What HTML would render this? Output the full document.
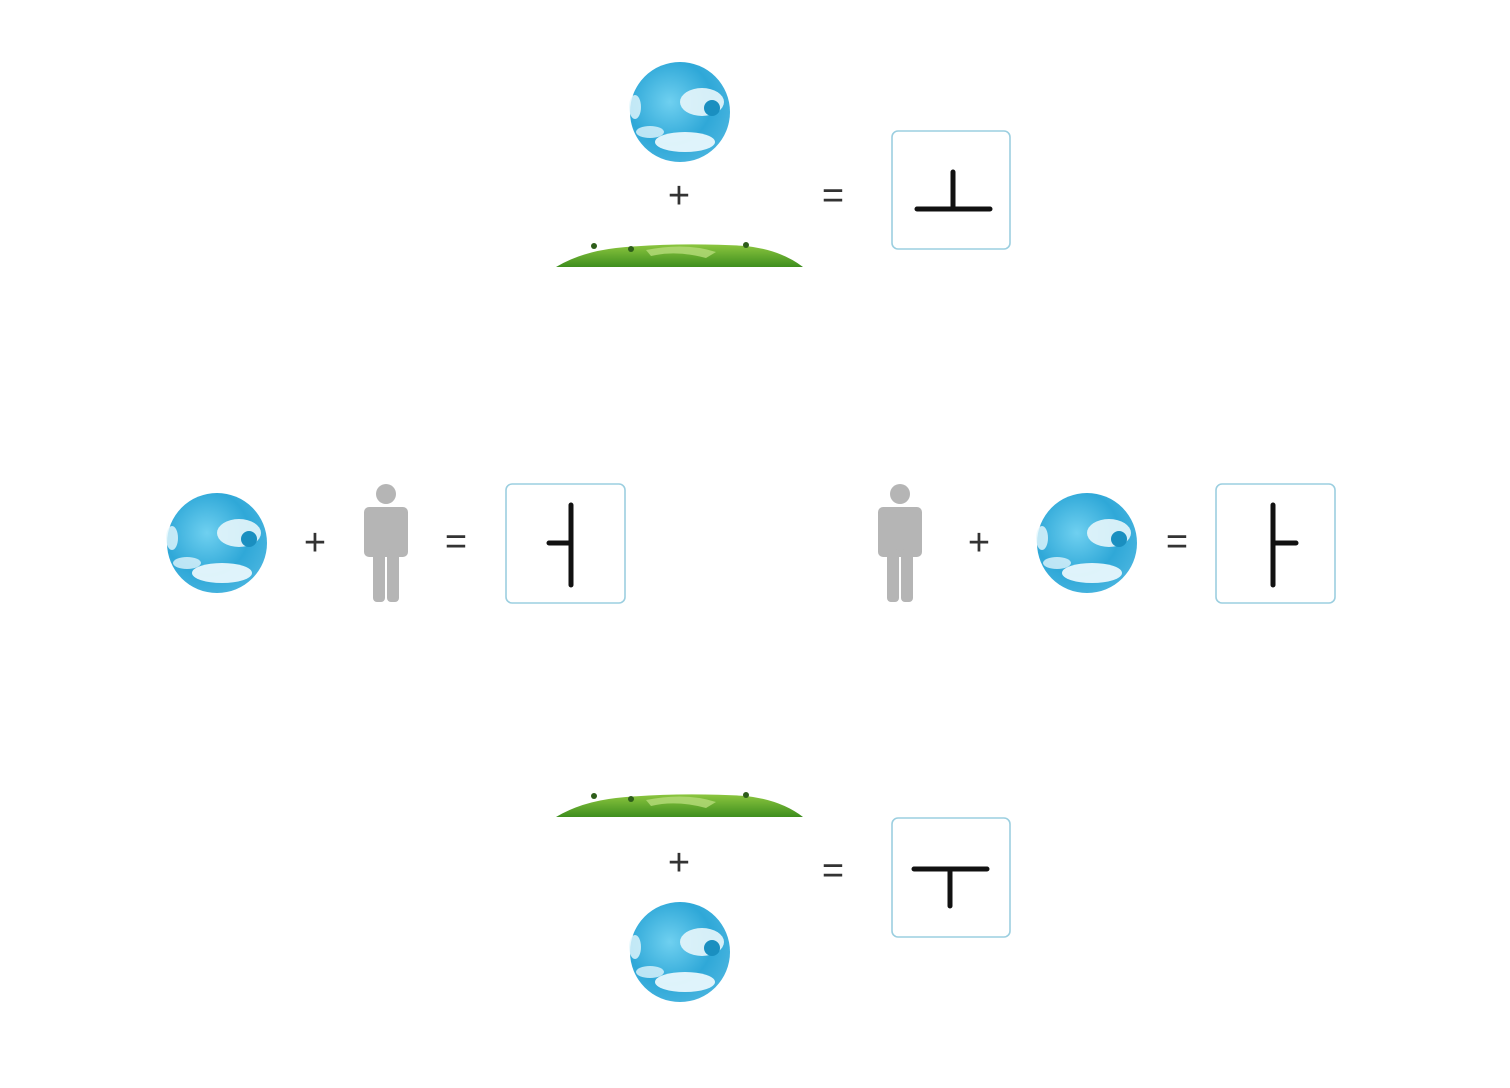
<!DOCTYPE html>
<html><head><meta charset="utf-8"><style>
html,body{margin:0;padding:0;background:#fff;width:1510px;height:1088px;overflow:hidden}
svg{display:block}
.op{font-family:"Liberation Sans",sans-serif;font-size:38px;fill:#333;text-anchor:middle;dominant-baseline:central}
.box{fill:#fff;stroke:#9ccfe0;stroke-width:1.6}
.st{stroke:#111;stroke-width:5;stroke-linecap:round;fill:none}
</style></head><body>
<svg width="1510" height="1088" viewBox="0 0 1510 1088">
<defs>
<radialGradient id="gg" cx="0.4" cy="0.4" r="0.7">
<stop offset="0" stop-color="#6fd0f0"/><stop offset="0.6" stop-color="#2fa8d8"/><stop offset="1" stop-color="#4cb6e0"/>
</radialGradient>
<linearGradient id="gr" x1="0" y1="0" x2="0" y2="1">
<stop offset="0" stop-color="#8cc63f"/><stop offset="1" stop-color="#3e8e1e"/>
</linearGradient>
<g id="globe">
<circle r="50" fill="url(#gg)"/>
<ellipse cx="22" cy="-10" rx="22" ry="14" fill="#e8f6fb" opacity="0.9"/>
<circle cx="32" cy="-4" r="8" fill="#1a8fc0"/>
<ellipse cx="5" cy="30" rx="30" ry="10" fill="#f2fbfe" opacity="0.9"/>
<ellipse cx="-30" cy="20" rx="14" ry="6" fill="#e0f4fb" opacity="0.8"/>
<ellipse cx="-45" cy="-5" rx="6" ry="12" fill="#e6f7fc" opacity="0.8"/>
</g>
<g id="grass">
<path d="M0 27 Q25 12 60 8 Q120 2 190 6 Q225 10 247 27 Z" fill="url(#gr)"/>
<path d="M90 10 Q130 2 160 12 L150 18 Q120 10 95 16Z" fill="#b6dc7a" opacity="0.8"/>
<circle cx="38" cy="6" r="3" fill="#2e5d1a"/><circle cx="75" cy="9" r="3" fill="#2e5d1a"/><circle cx="190" cy="5" r="3" fill="#2e5d1a"/>
</g>
<g id="person" fill="#b5b5b5">
<circle cx="0" cy="0" r="10"/>
<rect x="-22" y="13" width="44" height="50" rx="5"/>
<rect x="-13" y="55" width="12" height="53" rx="4"/>
<rect x="1" y="55" width="12" height="53" rx="4"/>
</g>
</defs>

<g>
<use href="#globe" x="680" y="112"/>
<text class="op" x="679" y="196">+</text>
<use href="#grass" x="556" y="240"/>
<text class="op" x="833" y="196">=</text>
<rect class="box" x="892" y="131" width="118" height="118" rx="6"/>
<path class="st" d="M917 209 H990 M953 172 V209"/>
</g>

<g>
<use href="#globe" x="217" y="543"/>
<text class="op" x="315" y="543">+</text>
<use href="#person" x="386" y="494"/>
<text class="op" x="456" y="542">=</text>
<rect class="box" x="506" y="484" width="119" height="119" rx="6"/>
<path class="st" d="M571 505 V585 M549 543 H571"/>
</g>

<g>
<use href="#person" x="900" y="494"/>
<text class="op" x="979" y="543">+</text>
<use href="#globe" x="1087" y="543"/>
<text class="op" x="1177" y="542">=</text>
<rect class="box" x="1216" y="484" width="119" height="119" rx="6"/>
<path class="st" d="M1273 505 V585 M1273 543 H1296"/>
</g>

<g>
<use href="#grass" x="556" y="790"/>
<text class="op" x="679" y="863">+</text>
<use href="#globe" x="680" y="952"/>
<text class="op" x="833" y="871">=</text>
<rect class="box" x="892" y="818" width="118" height="119" rx="6"/>
<path class="st" d="M914 869 H987 M950 869 V906"/>
</g>
</svg>
</body></html>
